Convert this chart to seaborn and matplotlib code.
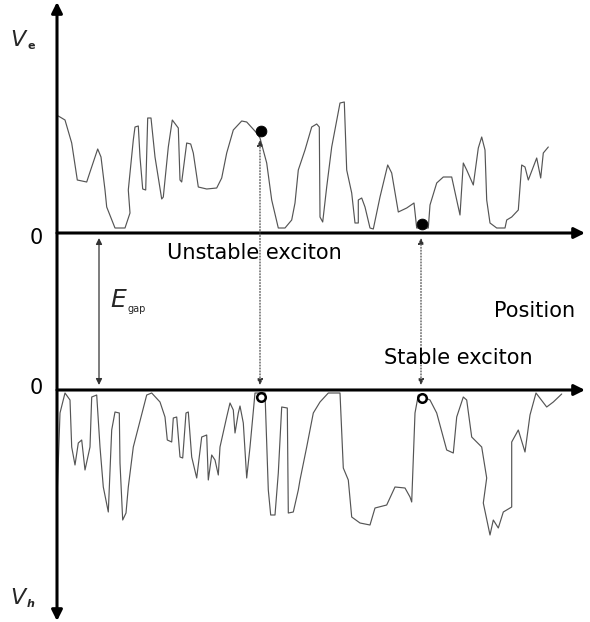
import matplotlib
matplotlib.use("Agg")
import matplotlib.pyplot as plt
import seaborn as sns

# ---------------------------------------------
# Schematic: fluctuating electron / hole potentials along position
# ---------------------------------------------

# electron potential V_e (height above its zero line)
e_pos = [58.3, 65, 71.7, 77.3, 86.7, 90, 97.7, 101, 105, 106.7, 115, 125, 130, 128.3,
         133.3, 135, 138.3, 140, 142.7, 145.7, 147.7, 151, 155, 161.7, 163.3, 168.3,
         172.3, 178.3, 180, 181.7, 186.7, 190.7, 193.3, 198.3, 206.7, 216.7, 221.7,
         226.7, 233.3, 241.7, 246.7, 256.7, 260, 266.7, 271.7, 278.3, 285, 291.7, 295,
         298.3, 305, 311.7, 316.7, 319.3, 320, 322.7, 326.7, 331.7, 340, 344.3, 346.7,
         351.7, 355, 358.3, 358.3, 361.7, 365, 370, 373.3, 380, 387.7, 391.7, 398.3,
         406.7, 414, 416.7, 428.3, 430, 436.7, 443.3, 451.7, 456.7, 460, 463.3, 466.7,
         473.3, 478.3, 481.7, 485, 486.7, 490, 496.7, 505, 506.7, 511.7, 518.3, 521.7,
         525, 528.3, 536.7, 540.7, 543.3, 548.3]
e_pot = [117, 113, 90, 53, 51, 61, 84, 76, 43, 26, 5, 5, 20, 43,
         93, 106, 107, 76, 44, 43, 115, 115, 76, 34, 36, 86,
         113, 105, 53, 51, 90, 89, 80, 46, 44, 45, 55,
         80, 103, 112, 111, 100, 95, 70, 33, 5, 5, 13, 30,
         63, 83, 106, 109, 106, 16, 11, 46, 86, 130, 131, 63,
         40, 10, 10, 33, 35, 26, 5, 4, 36, 68, 60, 21,
         25, 30, 5, 5, 28, 50, 56, 56, 33, 18, 70, 63,
         48, 85, 96, 83, 33, 10, 5, 5, 13, 16, 23, 68,
         66, 53, 75, 55, 80, 86]

# hole potential V_h (depth below its zero line)
h_pos = [57.3, 60, 65, 70, 71.7, 75, 78.3, 81.7, 85, 90, 91.7, 96.7, 100, 103.3, 108.3,
         111.7, 115, 119.3, 120, 122.7, 126, 128.3, 133.3, 146.7, 151.7, 160, 165, 167.3,
         171.7, 173.3, 176.7, 180, 182.7, 186, 188.3, 191.7, 196.7, 201.7, 206.7, 208.3,
         211.7, 215, 218.3, 220, 226.7, 230, 233.3, 235, 238.3, 240, 243.3, 246.7, 250,
         255, 265, 268.3, 270.7, 275, 278.3, 281.7, 287.3, 288.3, 293.3, 298.3, 300,
         306.7, 313.3, 320, 328.3, 340, 343.3, 348.3, 351.7, 360, 370, 375, 386.7, 395,
         405, 410, 411.7, 415, 418.3, 430, 436.7, 446.7, 453.3, 456.7, 463.3, 466.7,
         471.7, 481.7, 486.7, 483.3, 490, 493.3, 498.3, 503.3, 511.7, 511.7, 518.3, 525,
         530, 536, 546.7, 553.3, 561.7]
h_pot = [100, 23, 3, 10, 57, 75, 53, 50, 80, 57, 7, 5, 57, 97, 122,
         40, 22, 23, 73, 130, 123, 97, 57, 5, 3, 12, 27, 50,
         52, 28, 27, 67, 68, 23, 22, 67, 88, 47, 45, 90,
         65, 70, 85, 57, 27, 13, 20, 43, 23, 16, 33, 88, 57,
         3, 3, 100, 125, 125, 83, 17, 18, 123, 122, 100, 90,
         57, 23, 12, 3, 3, 78, 90, 127, 133, 135, 118, 115, 97,
         98, 107, 112, 23, 5, 10, 23, 60, 63, 27, 7, 10,
         47, 57, 88, 113, 145, 130, 138, 122, 117, 52, 40, 62,
         25, 3, 17, 12, 4]

e_gap = 157                      # separation of the two zero lines
excitons = [261, 422]            # positions of the two excitons
electron_pot = [102, 9]          # electron marker heights
hole_pot = [7, 8]                # hole marker depths

sns.set_style("white")
fig = plt.figure(figsize=(5.9, 6.22), dpi=100)
ax = fig.add_axes([0, 0, 1, 1])

line_kw = dict(sort=False, estimator=None, color="#555555", lw=0.85, ax=ax)
sns.lineplot(x=e_pos, y=[e_gap + v for v in e_pot], **line_kw)
sns.lineplot(x=h_pos, y=[-v for v in h_pot], **line_kw)

# electrons (filled) and holes (open)
sns.scatterplot(x=excitons, y=[e_gap + v for v in electron_pot], s=60,
                color="black", edgecolor="black", zorder=5, ax=ax)
sns.scatterplot(x=excitons, y=[-v for v in hole_pot], s=38, facecolor="white",
                edgecolor="black", linewidth=1.8, zorder=5, ax=ax)

# axes arrows
ax.annotate("", xy=(57, 388), xytext=(57, -231),
            arrowprops=dict(arrowstyle="<|-|>", lw=2.2, color="black",
                            mutation_scale=16, shrinkA=0, shrinkB=0))
for y0 in (e_gap, 0):
    ax.annotate("", xy=(585, y0), xytext=(57, y0),
                arrowprops=dict(arrowstyle="-|>", lw=2.2, color="black",
                                mutation_scale=16, shrinkA=0, shrinkB=0))

# gap arrow
ax.annotate("", xy=(99, 152), xytext=(99, 5),
            arrowprops=dict(arrowstyle="<|-|>", lw=0.9, color="#333333",
                            mutation_scale=9, shrinkA=0, shrinkB=0))

# exciton transitions (dotted)
for x0, top in zip(excitons, [250, 152]):
    ax.annotate("", xy=(x0 - 1, top), xytext=(x0 - 1, 5),
                arrowprops=dict(arrowstyle="<|-|>", lw=0.8, ls=":", color="#333333",
                                mutation_scale=9, shrinkA=0, shrinkB=0))

txt = dict(fontsize=15, color="black", family="DejaVu Sans")
ax.text(10, 350, "V", fontsize=16, style="italic", ha="left", va="center")
ax.text(27, 344, "e", fontsize=8, fontweight="bold", ha="left", va="center")
ax.text(10, -208, "V", fontsize=16, style="italic", ha="left", va="center")
ax.text(27, -214, "h", fontsize=8, fontweight="bold", style="italic", ha="left", va="center")
ax.text(36, 152, "0", ha="center", va="center", **txt)
ax.text(36, 2, "0", ha="center", va="center", **txt)
ax.text(110, 90, "E", fontsize=18, style="italic", ha="left", va="center")
ax.text(128, 81, "gap", fontsize=7, ha="left", va="center")
ax.text(254, 137, "Unstable exciton", ha="center", va="center", **txt)
ax.text(458, 32, "Stable exciton", ha="center", va="center", **txt)
ax.text(535, 79, "Position", ha="center", va="center", **txt)

ax.set_xlim(0, 590)
ax.set_ylim(-232, 390)
ax.set_axis_off()

fig.savefig("out.png", dpi=100, facecolor="white")
